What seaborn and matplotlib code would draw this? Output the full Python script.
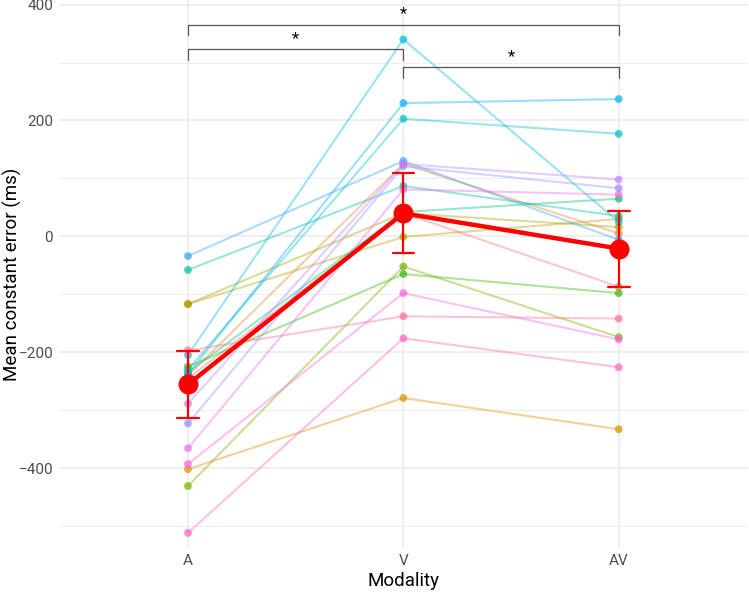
import numpy as np
import pandas as pd
import matplotlib
matplotlib.use("Agg")
import matplotlib.pyplot as plt
import seaborn as sns

modalities = ["A", "V", "AV"]
participants = [f"P{i:02d}" for i in range(1, 20)]
err_A = [-245, -240, -402, -117, -117, -431, -225, -235, -58, -230, -205, -238, -34, -323, -289, -366, -393, -512, -197]
err_V = [40, 125, -279, -1, 40, -52, -65, 42, 87, 203, 340, 230, 130, 121, 125, 81, -98, -176, -138]
err_AV = [-87, 5, -333, 30, 16, -174, -98, 65, 35, 177, 25, 237, -6, 83, 98, 72, -178, -226, -142]
colors = ["#F8766D", "#EA8331", "#D89000", "#C09B00", "#A3A500", "#7CAE00", "#39B600",
          "#00BF7D", "#00C1A3", "#00BFC4", "#00BAE0", "#00B0F6", "#35A2FF", "#9590FF",
          "#C77CFF", "#E76BF3", "#FA62DB", "#FF62BC", "#FF6C91"]
sig_pairs = [("A", "AV", 365), ("A", "V", 323), ("V", "AV", 292)]

rows = []
for p, a, v, av in zip(participants, err_A, err_V, err_AV):
    for m, val in zip(modalities, (a, v, av)):
        rows.append({"participant": p, "modality": m, "pos": modalities.index(m), "error": val})
df = pd.DataFrame(rows)
palette = dict(zip(participants, colors))

sns.set_theme(style="white")
plt.rcParams["font.family"] = ["Roboto", "DejaVu Sans"]

fig = plt.figure(figsize=(7.49, 5.99), dpi=100)
ax = fig.add_axes([58.7 / 749, 1 - 548 / 599, (748 - 58.7) / 749, 548 / 599])

sns.lineplot(data=df, x="pos", y="error", hue="participant", palette=palette,
             estimator=None, sort=True, alpha=0.4, linewidth=1.5, legend=False, ax=ax, zorder=2)
sns.scatterplot(data=df, x="pos", y="error", hue="participant", palette=palette,
                alpha=0.7, s=32, linewidth=0, legend=False, ax=ax, zorder=3)
sns.pointplot(data=df, x="pos", y="error", native_scale=True, errorbar=("se", 2),
              color="#FF0000", capsize=0.1, markersize=12, linewidth=3.2,
              err_kws={"linewidth": 1.6}, ax=ax, zorder=5)

# significance brackets
tip = 18
for g1, g2, yb in sig_pairs:
    x1, x2 = modalities.index(g1), modalities.index(g2)
    ax.plot([x1, x1, x2, x2], [yb - tip, yb, yb, yb - tip], color="#555555", lw=0.9, zorder=4)
    ax.text((x1 + x2) / 2, yb + 6, "*", ha="center", va="bottom", fontsize=12, color="black")

ax.set_xlim(-0.6, 2.6)
ax.set_ylim(-538, 408)
ax.set_xticks([0, 1, 2])
ax.set_xticklabels(modalities)
ax.set_yticks([-400, -200, 0, 200, 400])
ax.set_yticks([-500, -300, -100, 100, 300], minor=True)
ax.grid(True, which="major", color="#EBEBEB", linewidth=1.1, zorder=0)
ax.grid(True, which="minor", axis="y", color="#EBEBEB", linewidth=0.6, zorder=0)
ax.set_axisbelow(True)
for s in ax.spines.values():
    s.set_visible(False)
ax.tick_params(axis="both", which="both", length=0, labelsize=11, labelcolor="#4D4D4D", pad=4)
ax.set_xlabel("Modality", fontsize=13.5, color="black", labelpad=3)
ax.set_ylabel("Mean constant error (ms)", fontsize=13.5, color="black", va="center")
ax.yaxis.set_label_coords(-0.0675, 0.5)

fig.savefig("out.png", dpi=100)
